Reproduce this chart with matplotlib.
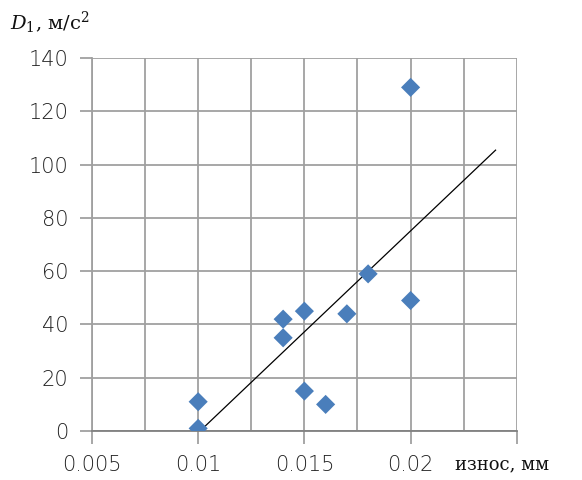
import matplotlib
matplotlib.use("Agg")
import matplotlib.pyplot as plt
import numpy as np

wear = [0.01, 0.01, 0.014, 0.014, 0.015, 0.015, 0.016, 0.017, 0.018, 0.02, 0.02]
d1 = [1, 11, 42, 35, 45, 15, 10, 44, 59, 129, 49]
forward = 0.004

plt.rcParams['mathtext.fontset'] = 'dejavuserif'

fig = plt.figure(figsize=(5.82, 4.8), dpi=100)
ax = fig.add_axes([0.158, 0.102, 0.73, 0.777])

x = np.array(wear)
y = np.array(d1)
k, b = np.polyfit(x, y, 1)
xt = np.array([x.min(), x.max() + forward])
ax.plot(xt, k * xt + b, color='black', lw=0.9, zorder=2)

ax.scatter(x, y, marker='D', s=95, color='#4a7ebb', edgecolors='none', zorder=3)

ax.set_xlim(0.005, 0.025)
ax.set_ylim(0, 140)
ax.set_xticks([0.005, 0.01, 0.015, 0.02, 0.025])
ax.set_xticklabels(['0.005', '0.01', '0.015', '0.02', ''])
ax.set_xticks(np.arange(0.0075, 0.025, 0.005), minor=True)
ax.set_yticks(np.arange(0, 141, 20))
ax.grid(True, which='both', color='#a0a0a0', lw=1.3)
ax.set_axisbelow(True)
for s in ['top', 'right']:
    ax.spines[s].set_visible(False)
ax.spines['left'].set_color('#a0a0a0')
ax.spines['bottom'].set_color('#808080')
ax.spines['left'].set_linewidth(1.3)
ax.spines['bottom'].set_linewidth(1.3)
ax.tick_params(which='major', length=9, color='#a0a0a0', width=1.3,
               labelsize=15, pad=8, labelcolor='#222222')
ax.tick_params(which='minor', length=0)
for lab in ax.get_xticklabels() + ax.get_yticklabels():
    lab.set_fontfamily('DejaVu Sans')
    lab.set_fontweight('light')

fig.text(0.017, 0.925, r'$D_1$, м/с$^2$', fontsize=14, family='DejaVu Serif',
         ha='left', va='bottom', color='#111111')
fig.text(0.782, 0.032, 'износ, мм', fontsize=13, family='DejaVu Serif',
         ha='left', va='center', color='#111111')

fig.savefig('out.png', dpi=100)
